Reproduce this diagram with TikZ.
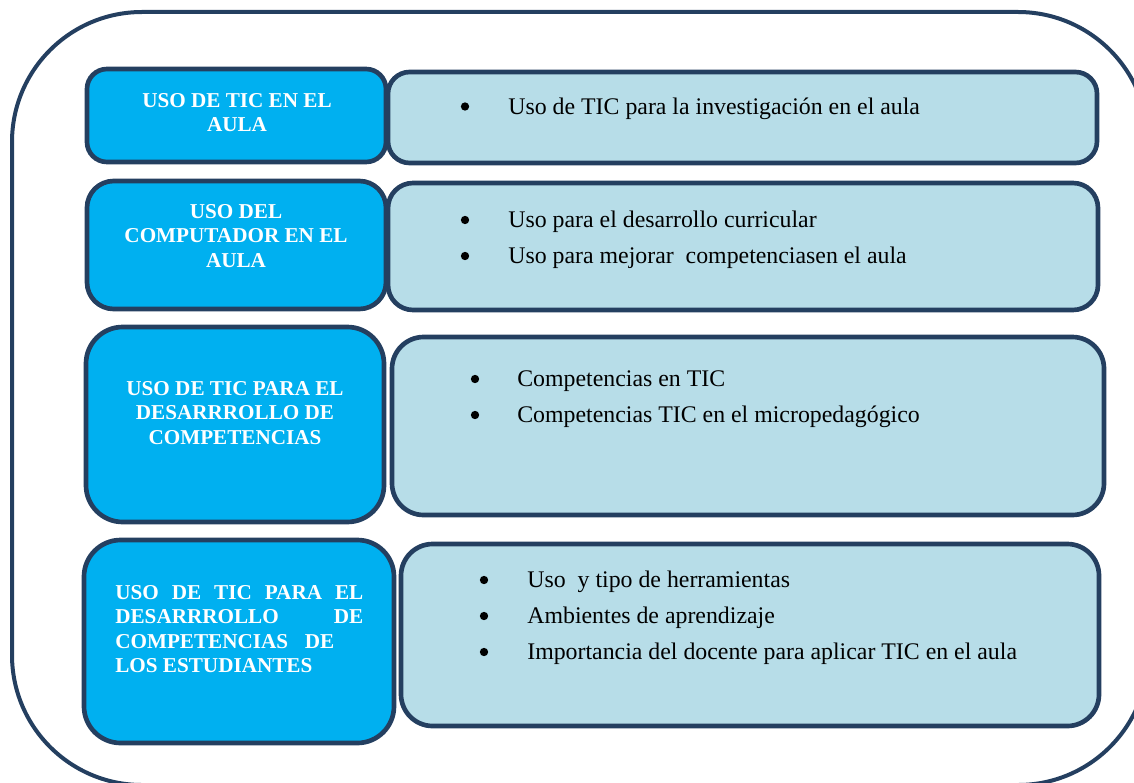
\documentclass[tikz,border=0pt]{standalone}
\usepackage{fontspec}
\setmainfont{Liberation Serif}

\definecolor{framecol}{HTML}{243F60}
\definecolor{headfill}{HTML}{00B0F0}
\definecolor{itemfill}{HTML}{B7DDE8}

\tikzset{
  headbox/.style={draw=framecol, line width=2.8pt, fill=headfill, rounded corners=#1},
  headbox/.default=14pt,
  itembox/.style={draw=framecol, line width=2.8pt, fill=itemfill, rounded corners=#1},
  itembox/.default=14pt,
  headtext/.style={text=white, font=\bfseries\fontsize{12.7}{14.7}\selectfont,
    align=center, inner sep=0pt, anchor=north},
  itemtext/.style={font=\fontsize{14.3}{21.6}\selectfont,
    align=left, inner sep=0pt, anchor=north west},
}

\begin{document}
\begin{tikzpicture}[x=0.6pt,y=-0.6pt]
  \useasboundingbox (0,0) rectangle (1134,782);
  \clip (0,0) rectangle (1134,782);
  % outer frame, runs past the right and bottom edges
  \draw[framecol, line width=2.4pt, rounded corners=78pt] (12,12) rectangle (1148,785);

  % row 1
  \draw[headbox=12pt] (87,69) rectangle (386,162);
  \draw[itembox=13pt] (388,72) rectangle (1097,163);
  \node[headtext] (h1) at (237,93) {USO DE TIC EN EL\\AULA};
  \node[itemtext] (i1) at (508,98) {Uso de TIC para la investigación en el aula};
  \fill (465,106.5) circle (2.5pt);

  % row 2
  \draw[headbox=16pt] (87,181) rectangle (386,309);
  \draw[itembox=15pt] (388,183) rectangle (1098,310);
  \node[headtext] (h2) at (236,204) {USO DEL\\COMPUTADOR EN EL\\AULA};
  \node[itemtext] (i2) at (508,211) {Uso para el desarrollo curricular\\
    Uso para mejorar\ \ competenciasen el aula};
  \fill (465,220) circle (2.5pt);
  \fill (465,256) circle (2.5pt);

  % row 3
  \draw[headbox=22pt] (86,327) rectangle (384,522);
  \draw[itembox=19pt] (392,337) rectangle (1104,515);
  \node[headtext] (h3) at (235,381) {USO DE TIC PARA EL\\DESARRROLLO DE\\COMPETENCIAS};
  \node[itemtext] (i3) at (517,370) {Competencias en TIC\\
    Competencias TIC en el micropedagógico};
  \fill (475,379) circle (2.5pt);
  \fill (475,415) circle (2.5pt);

  % row 4
  \draw[headbox=22pt] (84,540) rectangle (394,743);
  \draw[itembox=19pt] (401,544) rectangle (1099,726);
  \node[headtext, anchor=north west, align=left] (h4) at (115,585)
    {\makebox[148.8pt][s]{USO DE TIC PARA EL}\\
     \makebox[148.8pt][s]{DESARRROLLO DE}\\
     \makebox[131.4pt][s]{COMPETENCIAS DE}\\
     LOS ESTUDIANTES};
  \node[itemtext] (i4) at (527,571) {Uso\ \ y tipo de herramientas\\
    Ambientes de aprendizaje\\
    Importancia del docente para aplicar TIC en el aula};
  \fill (484,580) circle (2.5pt);
  \fill (484,616) circle (2.5pt);
  \fill (484,652) circle (2.5pt);
\end{tikzpicture}
\end{document}
